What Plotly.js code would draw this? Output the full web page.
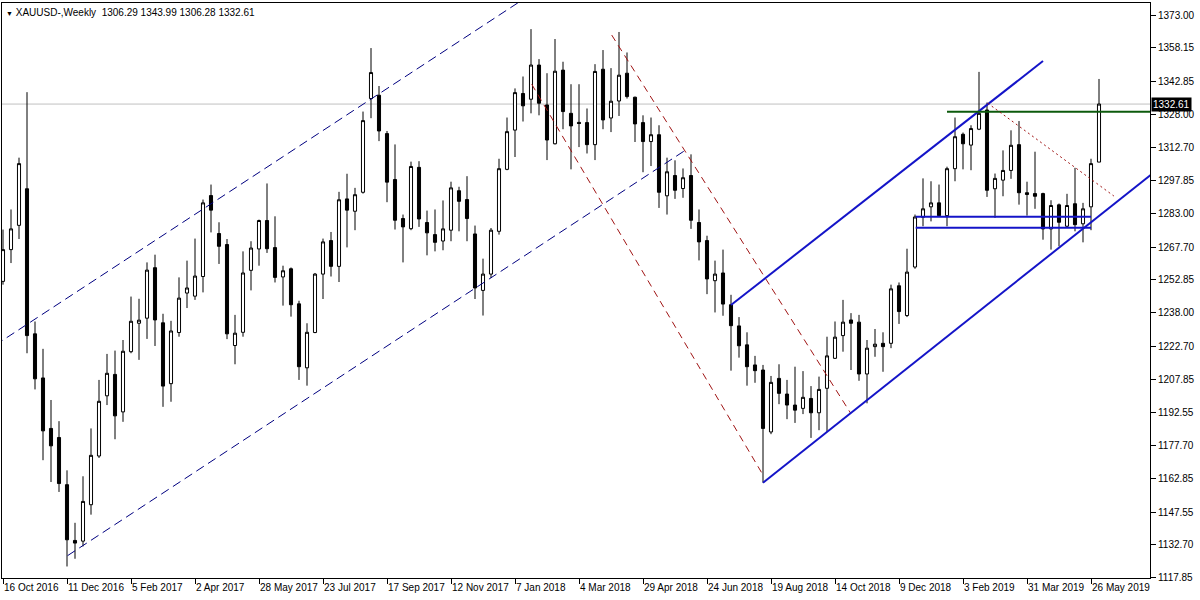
<!DOCTYPE html>
<html>
<head>
<meta charset="utf-8">
<script src="https://cdn.plot.ly/plotly-3.0.1.min.js"></script>
<style>
  html, body { margin: 0; padding: 0; background: #ffffff; }
  #chart { width: 1200px; height: 600px; }
</style>
</head>
<body>
<div id="chart"></div>
<script>
// ---------- DATA ----------
var firstWeek = '2016-10-16';   // weekly candles, one per Sunday
var openP = [1252.2,1266.6,1277.6,1294.2,1228.4,1208.4,1185.5,1181.4,1160.0,1134.7,
  1134.4,1150.9,1173.0,1200.3,1210.0,1193.0,1220.3,1233.2,1235.5,1258.4,
  1233.4,1205.8,1229.0,1246.9,1245.5,1254.4,1291.1,1273.9,1268.9,1223.1,
  1229.1,1257.2,1266.9,1279.8,1267.5,1254.2,1257.9,1242.0,1213.0,1229.0,
  1255.5,1270.7,1259.0,1289.6,1284.0,1292.6,1335.1,1336.6,1319.2,1298.4,
  1280.7,1276.1,1303.9,1278.9,1273.4,1270.5,1275.4,1293.3,1289.3,1273.7,
  1248.1,1255.5,1274.9,1303.0,1320.8,1337.4,1334.8,1350.3,1332.2,1314.6,
  1348.0,1328.4,1324.3,1324.2,1314.2,1348.4,1326.3,1334.0,1346.6,1335.7,
  1324.2,1315.6,1318.7,1291.0,1300.2,1294.3,1300.2,1278.9,1270.7,1252.5,
  1256.0,1241.6,1232.0,1223.4,1214.3,1212.0,1183.9,1208.2,1201.1,1196.1,
  1194.6,1199.1,1192.6,1203.7,1217.3,1227.6,1234.7,1233.7,1210.2,1222.6,
  1224.1,1224.1,1250.2,1236.7,1258.7,1281.3,1286.0,1287.8,1282.0,1303.3,
  1318.9,1314.0,1321.2,1329.9,1294.2,1298.1,1302.5,1314.2,1292.4,1292.0,
  1292.0,1276.0,1286.9,1277.2,1287.4,1278.3,1286.0,1306.29];
var highP = [1275.7,1284.8,1308.3,1338.0,1234.0,1221.6,1198.4,1188.8,1166.5,1142.7,
  1163.8,1185.5,1207.5,1219.3,1220.8,1225.6,1245.3,1244.3,1260.8,1264.3,
  1237.5,1234.3,1254.0,1261.6,1271.6,1289.3,1296.1,1279.0,1271.4,1237.0,
  1265.8,1270.4,1280.2,1296.6,1281.7,1259.3,1258.5,1243.4,1233.2,1256.0,
  1271.6,1274.6,1292.8,1301.0,1294.6,1329.2,1358.0,1340.8,1320.4,1314.3,
  1282.5,1306.5,1306.7,1284.3,1284.8,1288.9,1297.4,1295.1,1299.9,1277.5,
  1262.5,1276.4,1307.8,1326.5,1339.7,1345.1,1366.6,1353.0,1346.6,1362.1,
  1351.8,1341.6,1341.6,1330.6,1350.7,1357.1,1348.9,1365.3,1356.0,1336.0,
  1327.5,1326.5,1323.0,1308.3,1307.1,1303.4,1309.8,1284.8,1272.9,1261.6,
  1266.6,1246.1,1236.0,1229.1,1218.4,1214.3,1209.3,1214.6,1207.5,1213.5,
  1211.5,1204.7,1209.0,1227.1,1234.0,1243.8,1237.8,1237.0,1225.6,1230.6,
  1229.1,1250.7,1251.7,1267.0,1282.5,1298.9,1297.6,1296.1,1304.2,1326.5,
  1319.7,1323.0,1347.2,1333.3,1301.1,1311.6,1320.7,1324.9,1297.4,1311.0,
  1292.4,1289.0,1287.5,1291.9,1303.7,1287.8,1307.8,1343.99];
var lowP = [1250.7,1260.5,1271.4,1219.6,1203.2,1171.1,1161.2,1156.7,1122.9,1126.4,
  1132.0,1146.4,1172.1,1196.1,1180.6,1188.5,1219.6,1216.6,1226.1,1222.9,
  1195.3,1197.6,1227.1,1240.1,1243.8,1247.2,1274.4,1260.1,1226.0,1214.6,
  1227.1,1248.1,1259.3,1265.1,1251.7,1241.2,1236.2,1207.5,1204.9,1228.7,
  1244.2,1254.4,1251.9,1267.6,1275.4,1292.0,1326.2,1315.8,1288.1,1275.7,
  1260.8,1275.4,1276.9,1264.0,1265.8,1266.3,1270.4,1274.9,1270.4,1244.2,
  1236.7,1253.7,1273.4,1302.6,1308.6,1324.7,1328.4,1327.5,1307.2,1314.3,
  1321.2,1303.0,1313.1,1310.2,1307.2,1321.2,1319.9,1327.2,1335.1,1315.4,
  1301.7,1304.5,1285.5,1282.5,1289.6,1290.1,1276.0,1261.7,1246.4,1238.1,
  1236.6,1211.7,1217.6,1204.9,1206.2,1160.9,1182.9,1196.5,1189.7,1188.0,
  1192.0,1181.2,1184.7,1183.9,1217.0,1220.3,1212.0,1207.1,1196.9,1218.0,
  1211.2,1221.9,1232.9,1236.0,1257.9,1277.2,1279.4,1281.4,1277.2,1297.6,
  1303.0,1302.6,1320.8,1290.5,1281.0,1290.8,1298.7,1287.0,1282.0,1285.1,
  1271.1,1266.6,1268.1,1276.4,1274.9,1269.9,1275.4,1306.28];
var closeP = [1266.6,1276.0,1305.6,1227.6,1208.0,1184.4,1177.6,1160.5,1135.0,1133.5,
  1152.4,1173.3,1197.8,1210.5,1191.2,1220.5,1234.1,1234.6,1257.3,1234.7,
  1204.7,1229.7,1244.6,1249.2,1254.6,1287.8,1284.5,1268.1,1228.4,1228.7,
  1256.0,1267.3,1279.8,1267.0,1254.0,1257.0,1241.6,1213.5,1229.1,1255.5,
  1270.1,1259.0,1289.2,1284.5,1291.5,1325.1,1346.9,1320.4,1297.2,1279.9,
  1276.9,1304.3,1280.5,1274.2,1269.9,1276.0,1294.6,1288.5,1280.7,1249.2,
  1255.5,1275.4,1303.3,1320.1,1337.8,1331.8,1350.3,1333.0,1316.3,1347.5,
  1329.2,1322.7,1323.8,1314.2,1347.4,1325.4,1333.9,1345.7,1336.0,1323.6,
  1315.6,1318.7,1292.6,1301.9,1293.5,1299.2,1279.9,1270.1,1253.3,1255.5,
  1241.9,1232.1,1223.0,1213.5,1211.7,1185.5,1206.4,1201.4,1196.1,1193.8,
  1199.6,1192.6,1203.2,1218.4,1226.9,1233.7,1233.2,1210.2,1221.9,1223.7,
  1222.6,1248.8,1238.5,1256.4,1281.4,1285.1,1287.8,1282.0,1303.3,1317.8,
  1314.6,1321.5,1328.4,1293.5,1298.9,1302.5,1313.9,1292.4,1291.6,1290.8,
  1276.0,1286.6,1279.0,1286.6,1277.9,1285.1,1305.6,1332.61];

var tickDates = ['2016-10-16','2016-12-11','2017-02-05','2017-04-02','2017-05-28','2017-07-23',
  '2017-09-17','2017-11-12','2018-01-07','2018-03-04','2018-04-29','2018-06-24',
  '2018-08-19','2018-10-14','2018-12-09','2019-02-03','2019-03-31','2019-05-26'];
var tickText = ['16 Oct 2016','11 Dec 2016','5 Feb 2017','2 Apr 2017','28 May 2017','23 Jul 2017',
  '17 Sep 2017','12 Nov 2017','7 Jan 2018','4 Mar 2018','29 Apr 2018','24 Jun 2018',
  '19 Aug 2018','14 Oct 2018','9 Dec 2018','3 Feb 2019','31 Mar 2019','26 May 2019'];
var priceTicks = [1117.85,1132.70,1147.55,1162.85,1177.70,1192.55,1207.85,1222.70,1238.00,
  1252.85,1267.70,1283.00,1297.85,1312.70,1328.00,1342.85,1358.15,1373.00];

var lastPrice = 1332.61;
var headerText = 'XAUUSD-,Weekly\u00a0\u00a01306.29 1343.99 1306.28 1332.61';

// drawn objects (date, price anchors)
var navyUpperX = ['2016-10-09', '2018-02-18'];   var navyUpperY = [1223.2, 1391.9];
var navyLowerX = ['2016-12-11 12:00', '2018-06-04']; var navyLowerY = [1127.8, 1311.3];
var redUpperX = ['2018-04-01 15:00', '2018-10-27 17:00']; var redUpperY = [1363.9, 1192.4];
var redLowerX = ['2018-01-21 15:00', '2018-08-12']; var redLowerY = [1341.6, 1164.4];
var blueUpperX = ['2018-07-15', '2019-04-14']; var blueUpperY = [1241.5, 1352.1];
var blueLowerX = ['2018-08-12', '2019-09-01']; var blueLowerY = [1160.9, 1319.3];
var boxLineX = ['2018-12-23 15:00', '2019-05-26']; var boxTopY = [1281.5, 1281.5]; var boxBotY = [1276.5, 1276.5];
var greenX = ['2019-01-20', '2019-07-25']; var greenY = [1329.1, 1329.1];
var redDotX = ['2019-02-24 15:00', '2019-06-15']; var redDotY = [1333.0, 1290.9];

// ---------- BUILD ----------
var dates = [];
var t0 = Date.parse(firstWeek + 'T00:00:00Z');
for (var i = 0; i < openP.length; i++) {
  dates.push(new Date(t0 + i * 7 * 86400000).toISOString().slice(0, 10));
}

var FONT = 'Tahoma, "Liberation Sans", Arial, sans-serif';

function seg(x, y, color, width, dash) {
  return { type: 'scatter', mode: 'lines', x: x, y: y, hoverinfo: 'skip', showlegend: false,
    line: { color: color, width: width, dash: dash || 'solid' } };
}

var traces = [
  {
    type: 'candlestick', x: dates, open: openP, high: highP, low: lowP, close: closeP,
    whiskerwidth: 0, hoverinfo: 'none', showlegend: false,
    increasing: { line: { color: '#000000', width: 1 }, fillcolor: '#ffffff' },
    decreasing: { line: { color: '#000000', width: 1 }, fillcolor: '#000000' }
  },
  seg(navyUpperX, navyUpperY, '#000080', 1, '9px,5px'),
  seg(navyLowerX, navyLowerY, '#000080', 1, '9px,5px'),
  seg(redUpperX, redUpperY, '#a01414', 1, '7px,5px'),
  seg(redLowerX, redLowerY, '#a01414', 1, '7px,5px'),
  seg(blueUpperX, blueUpperY, '#1414c8', 2),
  seg(blueLowerX, blueLowerY, '#1414c8', 2),
  seg(boxLineX, boxTopY, '#1414c8', 2),
  seg(boxLineX, boxBotY, '#1414c8', 2),
  seg(greenX, greenY, '#0c5a0c', 2),
  seg(redDotX, redDotY, '#a01414', 1, '2px,3px')
];

var layout = {
  width: 1200, height: 600,
  margin: { l: 2, r: 50, t: 3, b: 22, pad: 0 },
  paper_bgcolor: '#ffffff', plot_bgcolor: '#ffffff',
  showlegend: false, hovermode: false, boxgap: 0.45,
  font: { family: FONT, size: 10, color: '#000000' },
  xaxis: {
    type: 'date', range: ['2016-10-15 03:00', '2019-07-16 15:00'],
    rangeslider: { visible: false }, fixedrange: true,
    showgrid: false, zeroline: false,
    showline: true, mirror: true, linecolor: '#000000', linewidth: 1,
    ticks: 'outside', ticklen: 5, tickcolor: '#000000', tickwidth: 1,
    tickmode: 'array', tickvals: tickDates, ticktext: tickText,
    tickangle: 0, ticklabelposition: 'outside right',
    tickfont: { family: FONT, size: 10, color: '#000000' }
  },
  yaxis: {
    side: 'right', range: [1117.67, 1378.44], fixedrange: true,
    showgrid: false, zeroline: false,
    showline: true, mirror: true, linecolor: '#000000', linewidth: 1,
    ticks: 'outside', ticklen: 5, tickcolor: '#000000', tickwidth: 1,
    tickmode: 'array', tickvals: priceTicks,
    ticktext: priceTicks.map(function (v) { return v.toFixed(2); }),
    tickfont: { family: FONT, size: 10, color: '#000000' }
  },
  shapes: [
    { type: 'line', xref: 'paper', x0: 0, x1: 1, yref: 'y', y0: lastPrice, y1: lastPrice,
      line: { color: '#c0c0c0', width: 1 }, layer: 'below' }
  ],
  annotations: [
    { xref: 'paper', yref: 'paper', x: 0, y: 1, xanchor: 'left', yanchor: 'top',
      xshift: 2, yshift: -2, showarrow: false, align: 'left',
      text: '<span style="font-size:7px">\u25BC</span> ' + headerText,
      font: { family: FONT, size: 10, color: '#000000' } },
    { xref: 'paper', yref: 'y', x: 1, y: lastPrice, xanchor: 'left', yanchor: 'middle',
      xshift: 1, showarrow: false, text: lastPrice.toFixed(2), bgcolor: '#000000',
      borderpad: 1, font: { family: FONT, size: 10, color: '#ffffff' } }
  ]
};

Plotly.newPlot('chart', traces, layout, { staticPlot: true, displayModeBar: false });
</script>
</body>
</html>
